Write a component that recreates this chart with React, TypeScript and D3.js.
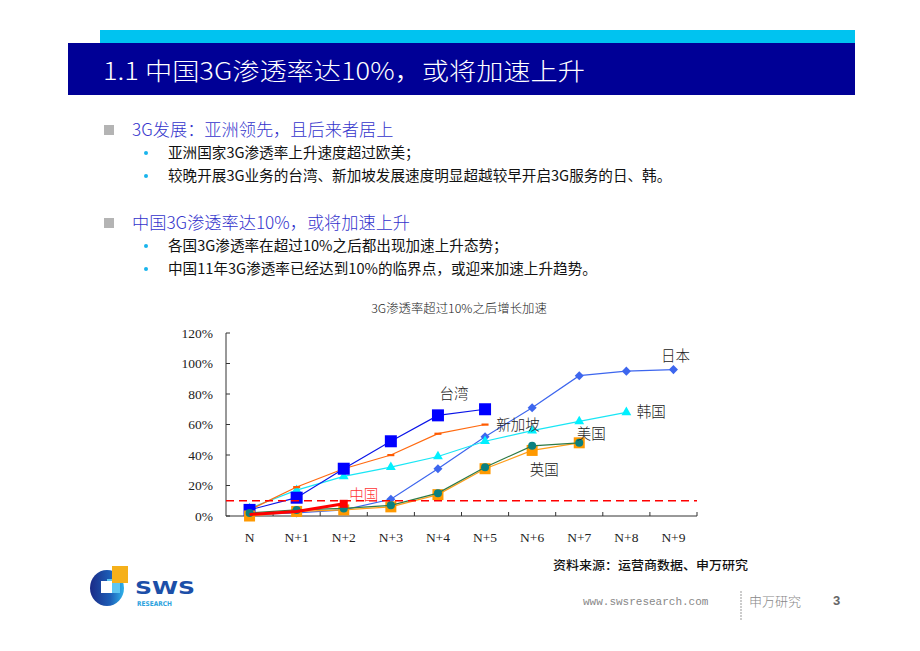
import React from 'react';
import * as d3 from 'd3';

// ---- data (values in %) ----
const categories = ['N', 'N+1', 'N+2', 'N+3', 'N+4', 'N+5', 'N+6', 'N+7', 'N+8', 'N+9'];
const yTicks = [0, 20, 40, 60, 80, 100, 120];
const japan = [1, 2, 4, 11, 31, 52, 71, 92, 95, 96];
const korea = [5, 17, 26, 32, 39, 49, 56, 62, 68];
const singapore = [4, 19, 31, 40, 54, 60];
const taiwan = [4, 12, 31, 49, 66, 70];
const uk = [0, 3, 4, 6, 14, 31, 43, 48];
const usa = [2, 4, 5, 7, 15, 32, 46, 48];
const china = [1, 3, 8];
const threshold = 10;

// label anchors: [category, value, dx]
const seriesLabels = [
  { text: '日本', cat: 'N+9', val: 105, dx: 2, color: '#222' },
  { text: '台湾', cat: 'N+4', val: 80, dx: 16, color: '#222' },
  { text: '新加坡', cat: 'N+5', val: 60, dx: 33, color: '#222' },
  { text: '韩国', cat: 'N+8', val: 68, dx: 25, color: '#222' },
  { text: '美国', cat: 'N+7', val: 54, dx: 12, color: '#222' },
  { text: '英国', cat: 'N+6', val: 30, dx: 12, color: '#222' },
  { text: '中国', cat: 'N+2', val: 14, dx: 20, color: '#ff3333' },
];

const cjk = '"Noto Sans CJK SC", "Noto Sans", sans-serif';
const serif = '"Liberation Serif", "DejaVu Serif", serif';

const x = d3.scaleBand<string>().domain(categories).range([226, 697]);
const y = d3.scaleLinear().domain([0, 120]).range([516, 333]);
const cx = (i: number) => (x(categories[i]) as number) + x.bandwidth() / 2;

const lineGen = d3.line<number>().x((_, i) => cx(i)).y(d => y(d));

const Series = ({ values, stroke, width = 1.2, marker }: {
  values: number[]; stroke: string; width?: number;
  marker: (px: number, py: number, i: number) => React.ReactNode;
}) => (
  <g>
    <path d={lineGen(values) || ''} fill="none" stroke={stroke} strokeWidth={width} />
    {values.map((v, i) => marker(cx(i), y(v), i))}
  </g>
);

const triangle = d3.symbol(d3.symbolTriangle, 42)();

const Logo = () => (
  <g>
    <defs>
      <linearGradient id="lg" x1="0" x2="1" y1="0" y2="0">
        <stop offset="0" stopColor="#1b2a86" />
        <stop offset="0.6" stopColor="#1d5fb8" />
        <stop offset="1" stopColor="#2fb3ea" />
      </linearGradient>
    </defs>
    <ellipse cx={107} cy={588} rx={17} ry={18} fill="url(#lg)" />
    <rect x={107} y={579} width={13} height={14} fill="#5ec6f0" />
    <rect x={101} y={581} width={11} height={12} fill="#fff" />
    <rect x={112} y={566} width={16} height={17} fill="#f5b01a" />
    <text x={135} y={594} fontFamily="'DejaVu Sans', sans-serif" fontWeight={900} fontSize={18}
      fill="#1c4fa8" textLength={60} lengthAdjust="spacingAndGlyphs">SWS</text>
    <text x={137} y={606} fontFamily="'DejaVu Sans', sans-serif" fontWeight={700} fontSize={6.5}
      fill="#2aa2de" textLength={35} lengthAdjust="spacingAndGlyphs">RESEARCH</text>
  </g>
);

const Bullet = ({ yy, head, items }: { yy: number; head: string; items: string[] }) => (
  <g>
    <rect x={104} y={yy - 5} width={10} height={10} fill="#b4b4b4" />
    <text x={132} y={yy} dy="0.35em" fontFamily={cjk} fontSize={17.2} fontWeight={300} fill="#3333cc">{head}</text>
    {items.map((t, i) => (
      <g key={i}>
        <circle cx={146} cy={yy + 23 + i * 23} r={2} fill="#19b4ec" />
        <text x={168} y={yy + 23 + i * 23} dy="0.35em" fontFamily={cjk} fontSize={14.6} fill="#111">{t}</text>
      </g>
    ))}
  </g>
);

export default function App() {
  const [x0, x1] = x.range();
  const boundaries = categories.map((_, i) => (x(categories[i]) as number) + x.bandwidth());
  return (
    <svg width={920} height={651} style={{ position: 'absolute', left: 0, top: 0, background: '#fff' }}>
      {/* header */}
      <rect x={100} y={30} width={755} height={13} fill="#00c3f0" />
      <rect x={68} y={43} width={787} height={52} fill="#000096" />
      <text x={103} y={72} dy="0.35em" fontFamily={cjk} fontSize={24} fontWeight={300} fill="#fff"
        textLength={482} lengthAdjust="spacingAndGlyphs">1.1 中国3G渗透率达10%，或将加速上升</text>

      <Bullet yy={130} head="3G发展：亚洲领先，且后来者居上"
        items={['亚洲国家3G渗透率上升速度超过欧美；', '较晚开展3G业务的台湾、新加坡发展速度明显超越较早开启3G服务的日、韩。']} />
      <Bullet yy={223} head="中国3G渗透率达10%，或将加速上升"
        items={['各国3G渗透率在超过10%之后都出现加速上升态势；', '中国11年3G渗透率已经达到10%的临界点，或迎来加速上升趋势。']} />

      {/* chart */}
      <text x={459} y={309} dy="0.35em" textAnchor="middle" fontFamily={cjk} fontSize={12.4} fontWeight={300} fill="#222">
        3G渗透率超过10%之后增长加速
      </text>

      <g>
        <line x1={x0} x2={x0} y1={y(120)} y2={y(0)} stroke="#333" />
        <line x1={x0} x2={x1} y1={y(0)} y2={y(0)} stroke="#333" />
        {yTicks.map(t => (
          <g key={t}>
            <line x1={x0} x2={x0 + 4} y1={y(t)} y2={y(t)} stroke="#333" />
            <text x={213} y={y(t)} dy="0.35em" textAnchor="end" fontFamily={serif} fontSize={13.5} fill="#222">{t}%</text>
          </g>
        ))}
        {boundaries.map((b, i) => (
          <line key={i} x1={b} x2={b} y1={y(0)} y2={y(0) - 4} stroke="#333" />
        ))}
        {categories.map((c, i) => (
          <text key={c} x={cx(i)} y={537} dy="0.35em" textAnchor="middle" fontFamily={serif} fontSize={13.5} fill="#222">{c}</text>
        ))}
      </g>

      <Series values={japan} stroke="#3d66ee" marker={(px, py, i) => (
        <rect key={i} x={-3.2} y={-3.2} width={6.4} height={6.4} transform={`translate(${px},${py}) rotate(45)`} fill="#3d66ee" />
      )} />
      <Series values={korea} stroke="#19e6f5" marker={(px, py, i) => (
        <path key={i} d={triangle || ''} transform={`translate(${px},${py})`} fill="#00f0ff" />
      )} />
      <Series values={singapore} stroke="#ff6a10" marker={(px, py, i) => (
        <rect key={i} x={px - 3.5} y={py - 1} width={7} height={2.2} fill="#ff5a00" />
      )} />
      <Series values={taiwan} stroke="#0a14e8" marker={(px, py, i) => (
        <rect key={i} x={px - 6} y={py - 6} width={12} height={12} fill="#0000ff" />
      )} />
      <Series values={uk} stroke="#ff9e1a" marker={(px, py, i) => (
        <rect key={i} x={px - 5.5} y={py - 5.5} width={11} height={11} fill="#ff9900" />
      )} />
      <Series values={usa} stroke="#2f7a45" marker={(px, py, i) => (
        <circle key={i} cx={px} cy={py} r={4} fill="#0a8080" />
      )} />
      <Series values={china} stroke="#ff0000" width={3} marker={(px, py, i) => (
        i === china.length - 1 ? <rect key={i} x={px - 4} y={py - 4} width={8} height={8} fill="#ff0000" /> : null
      )} />

      <line x1={x0} x2={x1} y1={y(threshold)} y2={y(threshold)} stroke="#ff0000" strokeWidth={1.6} strokeDasharray="8,5" />

      {seriesLabels.map(l => (
        <text key={l.text} x={(x(l.cat) as number) + x.bandwidth() / 2 + l.dx} y={y(l.val)} dy="0.35em"
          textAnchor="middle" fontFamily={cjk} fontSize={14.5} fontWeight={300} fill={l.color}>{l.text}</text>
      ))}

      {/* footer */}
      <text x={553} y={566} dy="0.35em" fontFamily={cjk} fontSize={12.5} fontWeight={500} fill="#111"
        textLength={195} lengthAdjust="spacingAndGlyphs">资料来源：运营商数据、申万研究</text>
      <Logo />
      <text x={583} y={601} dy="0.35em" fontFamily='"Liberation Mono", monospace' fontSize={11} fill="#888">www.swsresearch.com</text>
      <line x1={741} x2={741} y1={591} y2={620} stroke="#999" strokeDasharray="2,1" />
      <text x={749} y={601} dy="0.35em" fontFamily={cjk} fontSize={13} fontWeight={300} fill="#888">申万研究</text>
      <text x={833} y={600} dy="0.35em" fontFamily='"Liberation Sans", sans-serif' fontWeight={700} fontSize={13} fill="#666">3</text>
    </svg>
  );
}
